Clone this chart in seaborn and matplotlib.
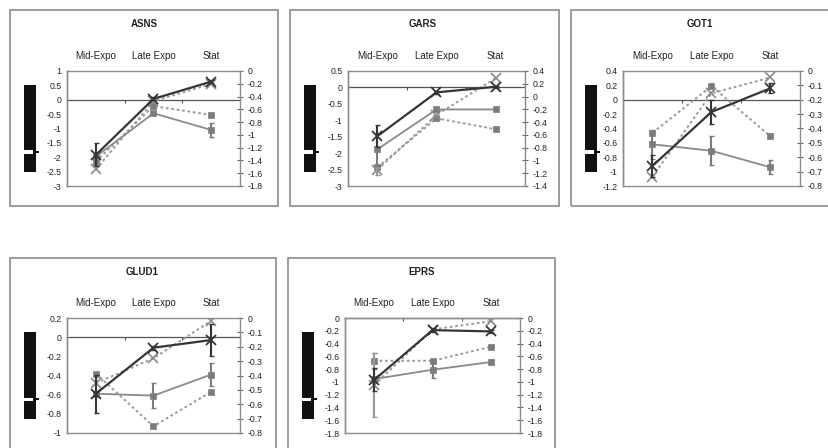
import numpy as np
import pandas as pd
import matplotlib
matplotlib.use("Agg")
import matplotlib.pyplot as plt
from matplotlib.patches import Rectangle
from matplotlib.ticker import FuncFormatter
import seaborn as sns

# ---------------- data ----------------
categories = ["Mid-Expo", "Late Expo", "Stat"]
genes = ["ASNS", "GARS", "GOT1", "GLUD1", "EPRS"]

# series order: dark solid X, gray solid square, gray dotted square, gray dotted X
asns_vals = [[-1.92, 0.03, 0.63], [-1.98, -0.47, -1.05], [-2.15, -0.22, -0.53], [-2.42, -0.05, 0.55]]
asns_errs = [[0.40, 0.05, 0.05], [0.0, 0.05, 0.25], [0.0, 0.0, 0.0], [0.0, 0.0, 0.0]]
gars_vals = [[-1.48, -0.15, 0.02], [-1.88, -0.67, -0.67], [-2.43, -0.94, -1.27], [-2.50, -0.84, 0.28]]
gars_errs = [[0.33, 0.05, 0.03], [0.50, 0.0, 0.0], [0.0, 0.0, 0.0], [0.17, 0.0, 0.0]]
got1_vals = [[-0.92, -0.17, 0.16], [-0.62, -0.71, -0.94], [-0.46, 0.19, -0.51], [-1.07, 0.09, 0.31]]
got1_errs = [[0.15, 0.17, 0.07], [0.20, 0.20, 0.10], [0.0, 0.0, 0.0], [0.0, 0.0, 0.0]]
glud1_vals = [[-0.59, -0.11, -0.03], [-0.59, -0.61, -0.39], [-0.38, -0.93, -0.57], [-0.48, -0.22, 0.17]]
glud1_errs = [[0.20, 0.02, 0.17], [0.0, 0.13, 0.12], [0.0, 0.0, 0.0], [0.0, 0.0, 0.0]]
eprs_vals = [[-0.97, -0.19, -0.21], [-0.955, -0.81, -0.69], [-0.67, -0.67, -0.45], [-1.05, -0.18, -0.05]]
eprs_errs = [[0.18, 0.03, 0.02], [0.0, 0.13, 0.03], [0.13, 0.0, 0.0], [0.50, 0.0, 0.0]]

# axis ranges (min, max, step) for left and right axes
asns_left, asns_right = (-3.0, 1.0, 0.5), (-1.8, 0.0, 0.2)
gars_left, gars_right = (-3.0, 0.5, 0.5), (-1.4, 0.4, 0.2)
got1_left, got1_right = (-1.2, 0.4, 0.2), (-0.8, 0.0, 0.1)
glud1_left, glud1_right = (-1.0, 0.2, 0.2), (-0.8, 0.0, 0.1)
eprs_left, eprs_right = (-1.8, 0.0, 0.2), (-1.8, 0.0, 0.2)

panel_data = {
    "ASNS": (asns_vals, asns_errs, asns_left, asns_right),
    "GARS": (gars_vals, gars_errs, gars_left, gars_right),
    "GOT1": (got1_vals, got1_errs, got1_left, got1_right),
    "GLUD1": (glud1_vals, glud1_errs, glud1_left, glud1_right),
    "EPRS": (eprs_vals, eprs_errs, eprs_left, eprs_right),
}

# ---------------- layout (pixels) ----------------
W, H = 829, 448
layout = {
    "ASNS": ((10, 10, 278, 206), (67, 71, 240, 186), 144),
    "GARS": ((290, 10, 559, 206), (348, 71, 525, 186), 423),
    "GOT1": ((571, 10, 832, 206), (623, 71, 800, 186), 700),
    "GLUD1": ((10, 258, 276, 452), (67, 318, 240, 433), 142),
    "EPRS": ((288, 258, 555, 452), (345, 318, 520, 433), 422),
}

DARK = "#353535"
GRAY_SOLID = "#8a8a8a"
GRAY_DOT = "#9a9a9a"
SQ = "#7c7c7c"
FRAME = "#8c8c8c"

styles = [
    dict(color=DARK, linestyle="-", lw=1.6, marker="x", markersize=6.5, mfc=DARK, mec=DARK, mew=1.3, z=5),
    dict(color=GRAY_SOLID, linestyle="-", lw=1.3, marker="s", markersize=5.0, mfc=SQ, mec=SQ, mew=0.5, z=4),
    dict(color=GRAY_DOT, linestyle=(0, (1.4, 1.4)), lw=1.4, marker="s", markersize=5.0, mfc=SQ, mec=SQ, mew=0.5, z=3),
    dict(color=GRAY_DOT, linestyle=(0, (1.4, 1.4)), lw=1.4, marker="x", markersize=6.5, mfc=GRAY_SOLID, mec=GRAY_SOLID, mew=1.2, z=3),
]

sns.set_style("white")
plt.rcParams["font.family"] = ["Liberation Sans", "DejaVu Sans"]
plt.rcParams["axes.unicode_minus"] = False

fig = plt.figure(figsize=(W / 100, H / 100), dpi=100)
fig.patch.set_facecolor("white")


def fr(l, t, r, b):
    return [l / W, 1 - b / H, (r - l) / W, (b - t) / H]


def fmt(v, pos=None):
    v = round(v, 2)
    if abs(v) < 1e-9:
        v = 0.0
    return f"{v:g}"


def ticks_from(rng):
    lo, hi, st = rng
    n = int(round((hi - lo) / st))
    return [round(lo + i * st, 3) for i in range(n + 1)]


xpos = np.arange(len(categories))

for gene in genes:
    vals, errs, lrng, rrng = panel_data[gene]
    box, plot, tx = layout[gene]
    bl, bt, br, bb = box
    pl, pt, pr, pb = plot

    # outer chart frame
    fig.patches.append(Rectangle((bl / W, 1 - bb / H), (br - bl) / W, (bb - bt) / H,
                                 transform=fig.transFigure, facecolor="none",
                                 edgecolor=FRAME, lw=1.2, clip_on=False, zorder=0))
    # title
    fig.text(tx / W, 1 - (bt + 14) / H, gene,
             ha="center", va="center", fontsize=7, fontweight="bold", color="#222222")

    # black indicator bar with notch
    fig.patches.append(Rectangle(((bl + 14) / W, 1 - (pt + 101) / H), 12 / W, 87 / H,
                                 transform=fig.transFigure, facecolor="#111111",
                                 edgecolor="none", zorder=2))
    fig.patches.append(Rectangle(((bl + 14) / W, 1 - (pt + 82.5) / H), 9 / W, 3 / H,
                                 transform=fig.transFigure, facecolor="white",
                                 edgecolor="none", zorder=3))
    fig.patches.append(Rectangle(((bl + 23) / W, 1 - (pt + 82) / H), 6 / W, 2 / H,
                                 transform=fig.transFigure, facecolor="#111111",
                                 edgecolor="none", zorder=3))

    ax = fig.add_axes(fr(pl, pt, pr, pb))
    ax.set_xlim(-0.5, 2.5)
    ax.set_ylim(lrng[0], lrng[1])

    for sv, se, st in zip(vals, errs, styles):
        df = pd.DataFrame({"x": xpos, "y": sv})
        sns.lineplot(data=df, x="x", y="y", ax=ax, color=st["color"], linestyle=st["linestyle"],
                     lw=st["lw"], marker=st["marker"], markersize=st["markersize"],
                     markerfacecolor=st["mfc"], markeredgecolor=st["mec"],
                     markeredgewidth=st["mew"], errorbar=None, legend=False, zorder=st["z"])
        e = np.asarray(se)
        m = e > 0
        if m.any():
            ax.errorbar(xpos[m], np.asarray(sv)[m], yerr=e[m], fmt="none",
                         ecolor=st["mec"] if st["marker"] == "s" else st["color"],
                         elinewidth=1.5, capsize=1.8, capthick=1.0, zorder=st["z"])

    ax.set_xlabel("")
    ax.set_ylabel("")
    # category boundary ticks on the zero line
    ax.set_xticks([0.5, 1.5])
    ax.set_xticklabels([])
    ax.spines["bottom"].set_position(("data", 0))
    ax.spines["bottom"].set_color("#555555")
    ax.spines["bottom"].set_linewidth(0.9)
    ax.tick_params(axis="x", which="both", bottom=True, top=False, direction="out",
                   length=2, width=0.8, color="#555555", labelbottom=False)
    ax.spines["top"].set_visible(False)
    ax.spines["right"].set_visible(False)
    ax.spines["left"].set_color(FRAME)
    ax.spines["left"].set_linewidth(1.0)
    ax.set_yticks(ticks_from(lrng))
    ax.yaxis.set_major_formatter(FuncFormatter(fmt))
    ax.tick_params(axis="y", length=0, pad=4, labelsize=6.3, labelcolor="#222222")

    # categories written above the plot area
    sec = ax.secondary_xaxis("top")
    sec.set_xticks(list(xpos))
    sec.set_xticklabels(categories)
    sec.tick_params(length=0, pad=7, labelsize=7, labelcolor="#222222")
    sec.spines["top"].set_visible(False)

    # right-hand axis
    tw = ax.twinx()
    tw.set_ylim(rrng[0], rrng[1])
    tw.set_yticks(ticks_from(rrng))
    tw.yaxis.set_major_formatter(FuncFormatter(fmt))
    tw.tick_params(axis="y", direction="inout", length=5, width=0.8, color="#666666",
                   pad=3, labelsize=6.3, labelcolor="#222222")
    for side in ["right", "top", "bottom", "left"]:
        tw.spines[side].set_color(FRAME)
        tw.spines[side].set_linewidth(1.0)
    tw.set_ylabel("")

fig.savefig("out.png", dpi=100, facecolor="white")
